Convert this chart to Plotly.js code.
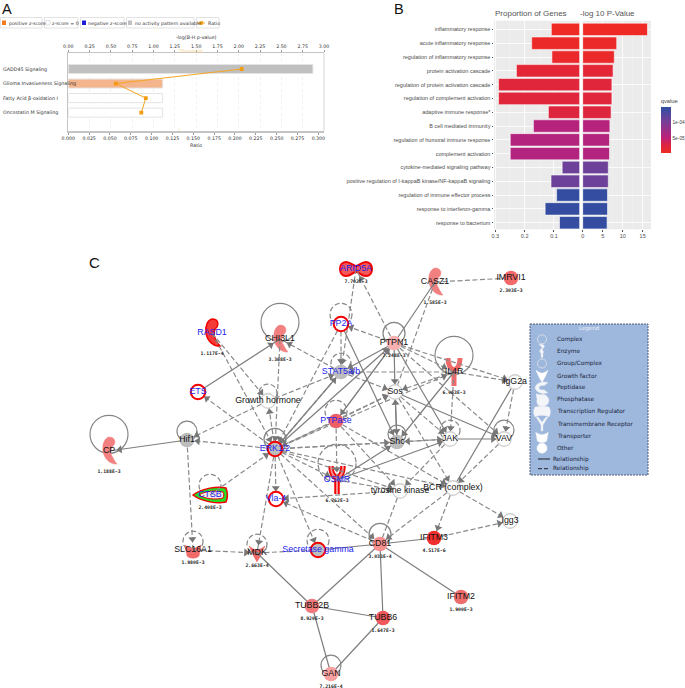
<!DOCTYPE html>
<html>
<head>
<meta charset="utf-8">
<script src="https://cdn.plot.ly/plotly-3.0.1.min.js"></script>
<style>html,body{margin:0;padding:0;background:#fff}#c{width:685px;height:688px}</style>
</head>
<body>
<div id="c"></div>
<script>
// ---------- Panel A data ----------
var pathways = ["GADD45 Signaling","Glioma Invasiveness Signaling","Fatty Acid β-oxidation I","Oncostatin M Signaling"];
var logP = [2.87,1.107,1.107,1.107];
var ratio = [0.208,0.057,0.093,0.0876];
var pathwayColors = ["#c0c0c0","#f4b48c","#ffffff","#ffffff"];
var threshold = 1.3;
var legendA = ["positive z-score","z-score = 0","negative z-score","no activity pattern available","Ratio"];

// ---------- Panel B data ----------
var goTerms = ["inflammatory response","acute inflammatory response","regulation of inflammatory response","protein activation cascade","regulation of protein activation cascade","regulation of complement activation","adaptive immune response*","B cell mediated immunity","regulation of humoral immune response","complement activation","cytokine-mediated signaling pathway","positive regulation of I-kappaB kinase/NF-kappaB signaling","regulation of immune effector process","response to interferon-gamma","response to bacterium"];
var proportion = [0.109,0.176,0.107,0.228,0.289,0.289,0.119,0.170,0.249,0.249,0.072,0.110,0.091,0.130,0.081];
var minusLogP = [16.2,8.5,7.9,7.6,7.3,7.3,7.1,6.8,6.7,6.7,6.4,6.4,6.2,6.2,6.1];
var qvalue = [6e-6,1e-5,1.2e-5,2.2e-5,2.6e-5,2.6e-5,3e-5,5.8e-5,6e-5,6e-5,1.1e-4,1.1e-4,1.45e-4,1.45e-4,1.45e-4];

// ---------- Panel C data ----------
var nodeNames = ["RASD1","CHI3L1","ETS","Growth hormone","Hif1","CP","ERK1/2","ARID5A","CASZ1","IMRVI1","PP2A","PTPN1","IL4R","STAT5a/b","Sos","IgG2a","PTPase","Shc","JAK","VAV","OSMR","CTSB","Vla-4","tyrosine kinase","BCR (complex)","Igg3","SLC16A1","MDK","Secretase gamma","CD81","IFITM3","IFITM2","TUBB2B","TUBB6","GAN"];
var nodeX = [212,280,198,268,187,109,275,356,435,511,341,394,454,341,395,515,336,397,450,504,337,210,276,400,453,510,193,257,318,380,434,461,312,383,331];
var nodeY = [333,339,392,401,440,451,449,269,282,278,324,343,372,372,392,382,421,442,439,439,480,495,499,491,488,521,550,553,550,544,538,597,606,618,674];
var nodeValues = {RASD1:"1.117E-4",CHI3L1:"3.368E-3",CP:"1.188E-3",ARID5A:"7.702E-3",CASZ1:"1.585E-3",IMRVI1:"2.303E-3",PTPN1:"7.248E-3",IL4R:"6.063E-3",OSMR:"6.762E-3",CTSB:"2.408E-3",SLC16A1:"1.980E-3",MDK:"2.663E-4",CD81:"3.033E-4",IFITM3:"4.517E-6",IFITM2:"1.900E-3",TUBB2B:"8.920E-3",TUBB6:"1.647E-3",GAN:"7.216E-4"};
var blueNames = ["RASD1","ETS","ARID5A","PP2A","STAT5a/b","PTPase","ERK1/2","OSMR","CTSB","Vla-4","Secretase gamma"];
var grayRing = ["Growth hormone","Sos","IgG2a","JAK","VAV","tyrosine kinase","BCR (complex)","Igg3"];
var grayFill = ["Hif1","Shc","STAT5a/b"];
var redRing = ["ETS","ERK1/2","PP2A","Vla-4","Secretase gamma"];
var redFill = {IMRVI1:"#f46a6a",PTPN1:"#f9b0b0",PTPase:"#ee6065",CD81:"#f9908f",IFITM3:"#f22f2f",IFITM2:"#ee6c6c",TUBB2B:"#f37a7a",TUBB6:"#f0585c",GAN:"#f9a0a0"};

var glyphNodes = {RASD1:"swoosh",CHI3L1:"swoosh",CP:"swoosh",CASZ1:"swoosh",IL4R:"receptor",OSMR:"receptor",MDK:"factor",SLC16A1:"cup",ARID5A:"complex",CTSB:"tear"};
var boldRed = ["RASD1","OSMR","ARID5A"];

var dashedArrows = [["RASD1","Growth hormone"],["RASD1","ERK1/2"],["CHI3L1","ERK1/2"],["ERK1/2","ETS"],["ERK1/2","Growth hormone"],["Growth hormone","Hif1"],["Growth hormone","STAT5a/b"],["ERK1/2","Hif1"],["Hif1","SLC16A1"],["CTSB","ERK1/2"],["ERK1/2","MDK"],["ERK1/2","Vla-4"],["ERK1/2","Secretase gamma"],["ERK1/2","CD81"],["ERK1/2","OSMR"],["PTPase","ERK1/2"],["ERK1/2","Shc"],["ERK1/2","Sos"],["STAT5a/b","ERK1/2"],["PP2A","ERK1/2"],["ERK1/2","JAK"],["ERK1/2","tyrosine kinase"],["ERK1/2","BCR (complex)"],["ERK1/2","IL4R"],["STAT5a/b","CHI3L1"],["ARID5A","STAT5a/b"],["PTPN1","ARID5A"],["PTPN1","PP2A"],["PP2A","STAT5a/b"],["PTPN1","IL4R"],["PTPN1","IgG2a"],["PTPN1","VAV"],["IL4R","STAT5a/b"],["IL4R","JAK"],["IL4R","Sos"],["IL4R","IgG2a"],["STAT5a/b","Sos"],["PTPase","Sos"],["PTPase","tyrosine kinase"],["PTPase","OSMR"],["PTPase","BCR (complex)"],["JAK","Shc"],["JAK","tyrosine kinase"],["VAV","BCR (complex)"],["IgG2a","VAV"],["OSMR","tyrosine kinase"],["tyrosine kinase","Vla-4"],["BCR (complex)","CD81"],["BCR (complex)","IFITM3"],["BCR (complex)","Igg3"],["IFITM3","Igg3"],["CD81","Vla-4"],["SLC16A1","MDK"],["Sos","BCR (complex)"],["Sos","JAK"]];
var dashedPlain = [["CASZ1","IMRVI1"],["CASZ1","Sos"],["MDK","Secretase gamma"],["tyrosine kinase","CD81"]];
var solidArrows = [["ETS","CHI3L1"],["Hif1","CP"],["ERK1/2","PTPN1"],["PTPN1","STAT5a/b"],["PTPN1","PTPase"],["PTPase","PTPN1"],["ERK1/2","STAT5a/b"],["Sos","Shc"],["Shc","Sos"],["PP2A","Shc"],["PTPN1","Sos"],["PTPN1","JAK"],["IL4R","Shc"],["Sos","VAV"],["JAK","VAV"],["OSMR","Shc"],["OSMR","JAK"]];
var solidPlain = [["CASZ1","PTPN1"],["IgG2a","BCR (complex)"],["CD81","IFITM3"],["CD81","Secretase gamma"],["CD81","TUBB2B"],["CD81","TUBB6"],["CD81","IFITM2"],["TUBB2B","TUBB6"],["TUBB2B","GAN"],["TUBB6","GAN"],["MDK","TUBB2B"]];
var solidLoops = ["CHI3L1","CP","IL4R","PTPN1","Hif1","Shc","VAV","CD81","GAN","ERK1/2"];
var solidLoopR = [19,19,19,11,10,9,10,11,10,11];
var dashedLoops = ["Growth hormone","PP2A","STAT5a/b","PTPase","JAK","OSMR","CTSB","SLC16A1","MDK","Secretase gamma"];
var dashedLoopR = [9,11,10,11,10,19,11,10,10,11];

var legendLabels = ["Complex","Enzyme","Group/Complex","Growth factor","Peptidase","Phosphatase","Transcription Regulator","Transmembrane Receptor","Transporter","Other"];
var legendGlyphs = ["ring","enzyme","ring","factor","swoosh2","phos","complex2","receptor2","cup","disc"];

// ---------- Layout helpers: pixel → figure fractions ----------
var W = 685, H = 688;
function dx(a,b){return [a/W,b/W];}
function dy(top,bot){return [1-bot/H,1-top/H];}
var idx = {}; nodeNames.forEach(function(n,i){idx[n]=i;});

var glyphPaths = {
 swoosh:"M0,-14 C6,-14 7,-9 5,-6 C2,-4 1,2 3,5 C5,9 7,12 8,13 C2,14 -5,8 -6,0 C-7,-8 -4,-13 0,-14 Z",
 receptor:"M-6,-14 C-6,-6 -3,-3 0,-2 C3,-3 6,-6 6,-14 M0,-2 L0,14",
 factor:"M-8,-7 C-4,-4 -1,-3 0,-3 C1,-3 4,-4 8,-7 L4,2 L0,9 L-4,2 Z",
 cup:"M-8,-5 C-3,-1 3,-1 8,-5 L6,6 C3,9 -3,9 -6,6 Z",
 complex:"M-10,-7 C-5,-7 -3,-3 0,-3 C3,-3 5,-7 10,-7 C18,-7 18,7 10,7 C5,7 3,3 0,3 C-3,3 -5,7 -10,7 C-18,7 -18,-7 -10,-7 Z",
 tear:"M-17,0 C-8,-7 8,-9 16,-7 C18,-2 18,2 16,7 C8,9 -8,7 -17,0 Z",
 tearIn:"M-11,0 C-5,-4 6,-5 13,-3 C14,-1 14,1 13,3 C6,5 -5,4 -11,0 Z",
 enzyme:"M-3,-7 C2,-8 4,-5 1,-3 C-1,-2 3,0 1,2 L1,6 L-1,6 L-1,2 C-4,-1 -1,-2 0,-4 Z",
 swoosh2:"M6,-5 C1,-7 -6,-5 -7,0 C-6,5 1,7 6,5 L2,2 C-1,3 -3,1 -3,0 C-3,-1 -1,-3 2,-2 Z",
 phos:"M-6,-6 L-2,-5 C2,-7 6,-4 7,0 C7,4 4,7 0,7 C-4,7 -6,3 -5,0 Z",
 complex2:"M-7,-5 C-3,-6 3,-6 7,-5 C9,-2 9,2 7,5 C3,3 -3,3 -7,5 C-9,2 -9,-2 -7,-5 Z",
 receptor2:"M-6,-7 L-4,-7 L0,-2 L4,-7 L6,-7 L1,1 L1,7 L-1,7 L-1,1 Z"
};
// places a glyph outline from the library at a node's pixel position
function transformPath(p, cx, cy, s){
  return p.replace(/(-?\d+(?:\.\d+)?),(-?\d+(?:\.\d+)?)/g,function(m,a,b){
    return (cx+s*parseFloat(a)).toFixed(2)+","+(cy+s*parseFloat(b)).toFixed(2);
  });
}
var shapes = [];
function pxShape(o){o.xref="x5";o.yref="y4";shapes.push(o);return o;}
function glyph(name,cx,cy,s,fill,line,lw,layer){
  pxShape({type:"path",path:transformPath(glyphPaths[name],cx,cy,s),fillcolor:fill,line:{color:line,width:lw},layer:layer||"between"});
}

// Panel A legend frames (drawn in figure pixels)
var legendBoxes = [[0,42],[44,78],[80,124],[126,194],[196,219]];
legendBoxes.forEach(function(b){
  pxShape({type:"rect",x0:b[0]+0.5,x1:b[1],y0:17.5,y1:28,line:{color:"#e2e2e2",width:1},fillcolor:"#fff",layer:"between"});
});
pxShape({type:"rect",x0:2,x1:6,y0:20.5,y1:25,fillcolor:"#f07c22",line:{width:0},layer:"between"});
pxShape({type:"rect",x0:46,x1:50,y0:20.5,y1:25,fillcolor:"#fff",line:{color:"#ccc",width:0.6},layer:"between"});
pxShape({type:"rect",x0:82,x1:86,y0:20.5,y1:25,fillcolor:"#1c1cd8",line:{width:0},layer:"between"});
pxShape({type:"rect",x0:128,x1:132,y0:20.5,y1:25,fillcolor:"#c0c0c0",line:{width:0},layer:"between"});
pxShape({type:"line",x0:197,x1:205,y0:23,y1:23,line:{color:"#f5a623",width:1},layer:"between"});
pxShape({type:"rect",x0:199.5,x1:203,y0:21.2,y1:24.8,fillcolor:"#f59b12",line:{width:0},layer:"between"});

// Self-loops of the network
function loop(name,r,dash){
  var i=idx[name],cx=nodeX[i],cy=nodeY[i]-r*0.88;
  pxShape({type:"circle",x0:cx-r,x1:cx+r,y0:cy-r,y1:cy+r,line:{color:"#858585",width:1.2,dash:dash?"5px,2.5px":"solid"},fillcolor:"rgba(0,0,0,0)",layer:"between"});
}
solidLoops.forEach(function(n,i){loop(n,solidLoopR[i],false);});
dashedLoops.forEach(function(n,i){loop(n,dashedLoopR[i],true);});

// Edges of the network
function edgeTrace(list,dashed){
  var xs=[],ys=[];
  list.forEach(function(e){xs.push(nodeX[idx[e[0]]],nodeX[idx[e[1]]],null);ys.push(nodeY[idx[e[0]]],nodeY[idx[e[1]]],null);});
  return {type:"scatter",mode:"lines",x:xs,y:ys,xaxis:"x5",yaxis:"y4",hoverinfo:"skip",showlegend:false,
    line:{color:dashed?"#8a8a8a":"#7e7e7e",width:1.2,dash:dashed?"5px,2.5px":"solid"}};
}
function arrowTrace(list){
  var xs=[],ys=[],ang=[];
  list.forEach(function(e){
    var a=idx[e[0]],b=idx[e[1]],ddx=nodeX[b]-nodeX[a],ddy=nodeY[b]-nodeY[a],len=Math.sqrt(ddx*ddx+ddy*ddy);
    xs.push(nodeX[b]-ddx/len*11);ys.push(nodeY[b]-ddy/len*11);
    ang.push(Math.atan2(ddx,-ddy)*180/Math.PI);
  });
  return {type:"scatter",mode:"markers",x:xs,y:ys,xaxis:"x5",yaxis:"y4",hoverinfo:"skip",showlegend:false,
    marker:{symbol:"triangle-up",size:7,color:"#777777",angle:ang,line:{width:0}}};
}

// Custom node glyphs
nodeNames.forEach(function(n,i){
  var g=glyphNodes[n],x=nodeX[i],y=nodeY[i],bold=boldRed.indexOf(n)>=0;
  if(!g) return;
  if(g==="receptor"){
    if(bold) glyph("receptor",x,y,1,"rgba(0,0,0,0)","#f40000",5.5);
    glyph("receptor",x,y,1,"rgba(0,0,0,0)",bold?"#f88a8a":"#f06a6a",bold?2:5);
  } else if(g==="tear"){
    glyph("tear",x,y,1,"#22dd22","#f00000",1.5);
    glyph("tearIn",x,y,1,"#f2e8e8","#f00000",1);
  } else if(g==="swoosh"){
    glyph(g,x,y,1,bold?"#f53a3a":"#f28080",bold?"#f00000":"#f28080",bold?1.5:0.5);
  } else if(g==="complex"){
    glyph(g,x,y,1,"#f55858","#f00000",2);
  } else {
    glyph(g,x,y,1,"#f06a6a","#f06a6a",0.5);
  }
});

// Disc / ring nodes
var discX=[],discY=[],discFill=[],discLine=[],discLW=[];
nodeNames.forEach(function(n,i){
  if(glyphNodes[n]) return;
  discX.push(nodeX[i]);discY.push(nodeY[i]);
  var ring=redRing.indexOf(n)>=0;
  discFill.push(redFill[n]||(grayFill.indexOf(n)>=0||n==="Secretase gamma"||n==="ERK1/2"?"#bdbdbd":"#fff"));
  discLine.push(ring?"#f40000":(grayRing.indexOf(n)>=0?"#cfcfcf":"rgba(0,0,0,0)"));
  discLW.push(ring?2:(grayRing.indexOf(n)>=0?1.3:0));
});

// Legend of panel C
pxShape({type:"rect",x0:530,x1:648,y0:324,y1:475,fillcolor:"#9db7dd",line:{color:"#4c5c78",width:1,dash:"2px,1px"},layer:"between"});
legendGlyphs.forEach(function(g,i){
  var y=339.3+i*12.1,x=542;
  if(g==="ring"){pxShape({type:"circle",x0:x-4.5,x1:x+4.5,y0:y-4.5,y1:y+4.5,fillcolor:"#9db7dd",line:{color:"#d8dde6",width:1},layer:"between"});}
  else if(g==="disc"){pxShape({type:"circle",x0:x-5,x1:x+5,y0:y-5,y1:y+5,fillcolor:"#fff",line:{color:"#fff",width:0.5},layer:"between"});}
  else if(g==="factor"){glyph("factor",x,y,0.75,"#fff","#fff",0.5);}
  else if(g==="cup"){glyph("cup",x,y,0.8,"#fff","#d8dde6",0.5);}
  else {glyph(g,x,y,1,"#f3f5f9","#e0e4ea",0.4);}
});
pxShape({type:"line",x0:538,x1:550,y0:459,y1:459,line:{color:"#222",width:1},layer:"between"});
pxShape({type:"line",x0:538,x1:550,y0:468.7,y1:468.7,line:{color:"#222",width:1,dash:"4px,2px"},layer:"between"});

// ---------- Annotations ----------
var annotations=[];
function note(x,y,t,size,color,opts){
  var a={xref:"x5",yref:"y4",x:x,y:y,text:t,showarrow:false,font:{size:size,color:color,family:(opts&&opts.family)||"Liberation Sans"},
         xanchor:(opts&&opts.anchor)||"left",yanchor:"middle",borderpad:0};
  annotations.push(a);
}
note(1,8.5,"A",14.5,"#111");
note(393,8.5,"B",14.5,"#111");
note(88,262,"C",15,"#111");
var legendATextX=[7.5,51,87,133.5,206.5];
legendA.forEach(function(t,i){note(legendATextX[i],23,t,4.7,"#333",{family:"DejaVu Sans"});});
pathways.forEach(function(p,i){note(2,69.2+i*14.52,p,4.8,"#333",{family:"DejaVu Sans"});});
note(190,51,"Threshold",4.8,"#f5cf90",{family:"DejaVu Sans",anchor:"center"});
note(494,13.5,"Proportion of Genes",8,"#555");
note(579,13.5,"-log 10 P-Value",8,"#555");
note(589,328,"Legend",5.5,"#eef2f8",{anchor:"center",family:"DejaVu Sans"});
legendLabels.forEach(function(t,i){note(555.7,339.3+i*12.1,t,5.8,"#18233a",{family:"DejaVu Sans"});});
note(551.7,459,"Relationship",5.8,"#18233a",{family:"DejaVu Sans"});
note(551.7,468.7,"Relationship",5.8,"#18233a",{family:"DejaVu Sans"});

// ---------- Traces ----------
var orange="#f5a623";
var qScale=[[0,"#ef2a25"],[0.18,"#dc2540"],[0.33,"#bd207a"],[0.7,"#743f98"],[1,"#2f4ea2"]];
var traces=[
 {type:"bar",orientation:"h",y:pathways,x:logP,xaxis:"x",yaxis:"y",width:0.62,marker:{color:pathwayColors,line:{color:"#e4e4e4",width:1}},hoverinfo:"skip",showlegend:false},
 {type:"scatter",mode:"lines",x:[threshold,threshold],y:[-1.1,4.26],xaxis:"x",yaxis:"y",line:{color:"#f9e6c4",width:0.8},hoverinfo:"skip",showlegend:false},
 {type:"scatter",mode:"lines+markers",y:pathways,x:ratio,xaxis:"x2",yaxis:"y",line:{color:orange,width:1},marker:{symbol:"square",size:3.8,color:"#f59b12"},hoverinfo:"skip",showlegend:false},
 {type:"bar",orientation:"h",y:goTerms,x:proportion,xaxis:"x3",yaxis:"y2",width:0.9,
  marker:{color:qvalue,cmin:6e-6,cmax:1.48e-4,colorscale:qScale,showscale:false,line:{color:"rgba(255,255,255,.55)",width:1}},hoverinfo:"skip",showlegend:false},
 {type:"bar",orientation:"h",y:goTerms,x:minusLogP,xaxis:"x4",yaxis:"y3",width:0.9,
  marker:{color:qvalue,cmin:6e-6,cmax:1.48e-4,colorscale:qScale,showscale:true,line:{color:"rgba(255,255,255,.55)",width:1},
   colorbar:{x:660.7/W,xanchor:"left",y:1-124.5/H,yanchor:"middle",lenmode:"pixels",len:57,thicknessmode:"pixels",thickness:9.5,outlinewidth:0,xpad:0,ypad:0,
    tickvals:[5e-5,1e-4],ticktext:["5e-05","1e-04"],ticks:"",ticklabelposition:"outside",tickfont:{size:4.8,family:"Liberation Sans",color:"#444"},
    title:{text:"qvalue",side:"top",font:{size:5.8,family:"Liberation Sans",color:"#444"}}}},hoverinfo:"skip",showlegend:false},
 edgeTrace(dashedArrows.concat(dashedPlain),true),
 edgeTrace(solidArrows.concat(solidPlain),false),
 arrowTrace(dashedArrows.concat(solidArrows)),
 {type:"scatter",mode:"markers",x:discX,y:discY,xaxis:"x5",yaxis:"y4",hoverinfo:"skip",showlegend:false,
  marker:{symbol:"circle",size:14.5,color:discFill,line:{color:discLine,width:discLW}}}
];
// Node labels
var blackX=[],blackY=[],blackT=[],blueX=[],blueY=[],blueT=[],valX=[],valY=[],valT=[];
nodeNames.forEach(function(n,i){
  if(blueNames.indexOf(n)>=0){blueX.push(nodeX[i]);blueY.push(nodeY[i]);blueT.push(n);}
  else {blackX.push(nodeX[i]);blackY.push(nodeY[i]);blackT.push(n);}
  if(nodeValues[n]){valX.push(nodeX[i]);valY.push(nodeY[i]+((n==="RASD1"||n==="CHI3L1"||n==="CP"||n==="CASZ1"||n==="IL4R"||n==="OSMR")?21:13));valT.push(nodeValues[n]);}
});
traces.push({type:"scatter",mode:"text",x:blackX,y:blackY,text:blackT,textposition:"middle center",xaxis:"x5",yaxis:"y4",textfont:{size:8.8,family:"Liberation Sans",color:"#111"},hoverinfo:"skip",showlegend:false});
traces.push({type:"scatter",mode:"text",x:blueX,y:blueY,text:blueT,textposition:"middle center",xaxis:"x5",yaxis:"y4",textfont:{size:8.8,family:"Liberation Sans",color:"#2222ee"},hoverinfo:"skip",showlegend:false});
traces.push({type:"scatter",mode:"text",x:valX,y:valY,text:valT,textposition:"middle center",xaxis:"x5",yaxis:"y4",textfont:{size:4.8,family:"DejaVu Sans Mono",color:"#222",weight:"bold"},hoverinfo:"skip",showlegend:false});

// ---------- Layout ----------
var tickA={size:4.7,family:"DejaVu Sans",color:"#333"};
var tickB={size:5.5,family:"Liberation Sans",color:"#4d4d4d"};
var layout={
 width:W,height:H,margin:{l:0,r:0,t:0,b:0},paper_bgcolor:"#fff",plot_bgcolor:"rgba(0,0,0,0)",font:{family:"Liberation Sans"},
 bargap:0.1,barmode:"overlay",
 xaxis:{domain:dx(68.3,324),range:[0,3],side:"top",anchor:"y",dtick:0.25,tick0:0,tickformat:".2f",tickfont:tickA,ticks:"outside",ticklen:2,tickcolor:"#999",
   showgrid:true,gridcolor:"#e6e6e6",griddash:"dot",gridwidth:0.6,showline:true,linecolor:"#c4c4c4",linewidth:1,mirror:false,zeroline:false,
   title:{text:"-log(B-H p-value)",font:{size:4.8,family:"DejaVu Sans",color:"#333"},standoff:3.5}},
 xaxis2:{domain:dx(68.3,324),range:[0,0.3068],overlaying:"x",side:"bottom",anchor:"y",dtick:0.025,tick0:0,tickformat:".3f",tickfont:tickA,ticks:"outside",ticklen:2,tickcolor:"#999",
   showgrid:false,showline:true,linecolor:"#c4c4c4",linewidth:1.5,zeroline:false,title:{text:"Ratio",font:{size:4.8,family:"DejaVu Sans",color:"#333"},standoff:3.5}},
 yaxis:{domain:dy(53,131),type:"category",categoryorder:"array",categoryarray:pathways,range:[4.26,-1.1],anchor:"x",showticklabels:false,ticks:"",showgrid:false,showline:true,linecolor:"#c4c4c4",linewidth:1.2,zeroline:false},
 xaxis3:{domain:dx(494,579.3),range:[0.3045,0.0136],anchor:"y2",dtick:0.1,tick0:0,tickformat:".1f",tickfont:tickB,ticks:"outside",ticklen:1.5,tickcolor:"#555",showgrid:true,gridcolor:"#fff",gridwidth:0.8,zeroline:false,minor:{dtick:0.05,showgrid:true,gridcolor:"#f6f6f6",gridwidth:0.4}},
 yaxis2:{domain:dy(20.7,229.3),type:"category",categoryorder:"array",categoryarray:goTerms,range:[14.48,-0.63],anchor:"x3",tickfont:tickB,ticks:"outside",ticklen:1.5,tickcolor:"#555",showgrid:true,gridcolor:"#fff",gridwidth:0.8,zeroline:false,automargin:false},
 xaxis4:{domain:dx(582.7,651),range:[0,17.08],anchor:"y3",dtick:5,tick0:0,tickfont:tickB,ticks:"outside",ticklen:1.5,tickcolor:"#555",showgrid:true,gridcolor:"#fff",gridwidth:0.8,zeroline:false,minor:{dtick:2.5,showgrid:true,gridcolor:"#f6f6f6",gridwidth:0.4}},
 yaxis3:{domain:dy(20.7,229.3),type:"category",categoryorder:"array",categoryarray:goTerms,range:[14.48,-0.63],anchor:"x4",showticklabels:false,ticks:"",showgrid:true,gridcolor:"#fff",gridwidth:0.8,zeroline:false},
 xaxis5:{domain:[0,1],range:[0,W],anchor:"y4",visible:false,fixedrange:true},
 yaxis4:{domain:[0,1],range:[H,0],anchor:"x5",visible:false,fixedrange:true},
 shapes:shapes.concat([
  {type:"rect",xref:"paper",yref:"paper",x0:494/W,x1:579.3/W,y0:1-229.3/H,y1:1-20.7/H,fillcolor:"#ebebeb",line:{width:0},layer:"below"},
  {type:"rect",xref:"paper",yref:"paper",x0:582.7/W,x1:651/W,y0:1-229.3/H,y1:1-20.7/H,fillcolor:"#ebebeb",line:{width:0},layer:"below"},
  {type:"line",xref:"paper",yref:"paper",x0:324/W,x1:324/W,y0:1-131/H,y1:1-53/H,line:{color:"#d4d4d4",width:1},layer:"below"}
 ]),
 annotations:annotations
};
Plotly.newPlot("c",traces,layout,{displayModeBar:false,staticPlot:true});
</script>
</body>
</html>
